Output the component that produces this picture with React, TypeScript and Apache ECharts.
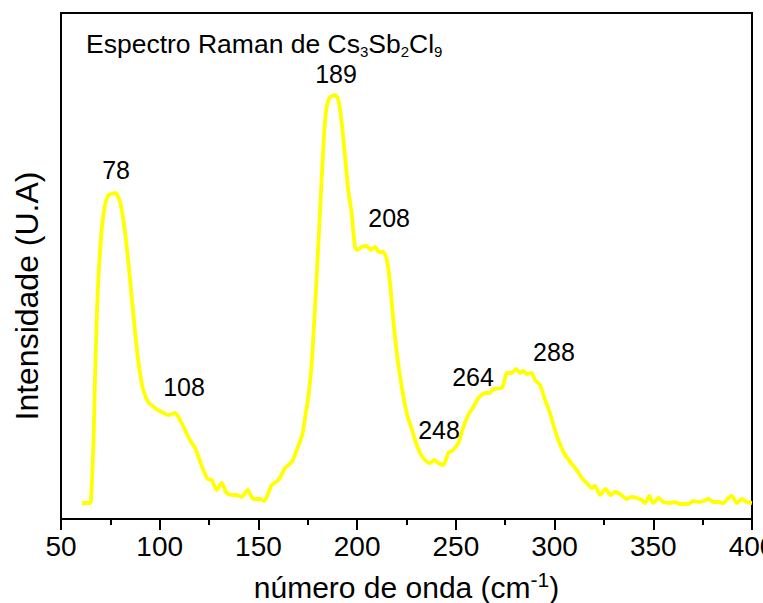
import React, { useEffect, useRef } from "react";
import * as echarts from "echarts";

const FONT = "'Liberation Sans', Arial, sans-serif";

// Raman shift (cm-1)
const waveNumber = [
  60.6, 64.7, 65.2, 66.4, 67.2, 68.1, 68.9, 70.6, 72.3, 74.0, 75.7, 77.7, 79.9, 81.6, 83.3, 85.0,
  86.6, 88.3, 90.0, 91.7, 94.2, 97.6, 101.0, 104.4, 107.8, 110.3, 112.8, 115.3, 117.9, 120.6,
  122.5, 124.3, 126.3, 128.9, 131.4, 133.9, 136.5, 139.0, 141.5, 144.6, 147.4, 150.8, 153.0,
  156.7, 160.1, 163.5, 166.9, 169.6, 172.3, 174.0, 175.3, 177.0, 178.5, 180.3, 182.0, 183.4,
  184.6, 186.3, 188.8, 190.5, 192.2, 193.9, 195.5, 197.2, 198.9, 200.1, 202.3, 204.9, 206.9,
  209.1, 211.1, 213.3, 215.0, 216.7, 218.5, 220.6, 223.2, 225.5, 228.0, 229.3, 231.9, 234.4,
  236.9, 239.1, 241.1, 243.7, 246.2, 248.7, 251.3, 253.8, 256.3, 258.9, 261.4, 264.8, 267.3,
  269.0, 273.3, 274.4, 275.8, 278.3, 280.5, 282.5, 284.2, 285.9, 288.4, 290.1, 292.6, 295.2,
  297.7, 299.7, 301.9, 304.5, 307.9, 311.2, 313.8, 316.3, 318.8, 320.5, 323.0, 325.8, 328.4,
  330.5, 333.2, 336.5, 339.1, 341.6, 344.2, 345.8, 348.0, 350.0, 352.6, 355.1, 358.5, 361.0,
  363.6, 366.1, 367.8, 370.3, 372.9, 375.4, 377.9, 380.4, 383.0, 385.5, 388.0, 389.8, 392.3,
  394.9, 397.4, 400.0,
];

// Intensity (arbitrary units)
const intensity = [
  16, 16, 19, 72, 139, 199, 239, 289, 314, 324, 325, 326, 317, 299, 272, 239,
  206, 172, 146, 129, 117, 111, 107, 104, 106, 99, 89, 79, 71, 57,
  47, 40, 39, 29, 36, 26, 24, 24, 22, 29, 20, 20, 18,
  34, 39, 51, 57, 70, 85, 106, 122, 156, 206, 272, 339, 389,
  412, 422, 424, 419, 396, 362, 329, 306, 272, 269, 272, 273, 269,
  272, 267, 267, 260, 235, 195, 158, 125, 103, 88, 79, 66, 59,
  56, 59, 56, 54, 66, 69, 76, 92, 104, 112, 121, 126, 126,
  130, 131, 137, 146, 146, 150, 146, 148, 145, 146, 139, 134, 119,
  106, 92, 79, 67, 57, 49, 41, 36, 31, 33, 24, 30, 24,
  27, 25, 20, 22, 21, 19, 16, 23, 16, 21, 17, 16, 17,
  15, 15, 15, 18, 17, 18, 20, 17, 17, 16, 21, 23, 16,
  20, 17, 16,
];

// Peak annotations: label text and anchor (wavenumber, intensity)
const peakLabels = ["78", "108", "189", "208", "248", "264", "288"];
const peakLabelX = [77.9, 112.3, 189.3, 216.2, 241.5, 258.7, 299.7];
const peakLabelY = [349, 132, 445, 301, 89, 142, 167];

const xTicksMin = 50;
const xTicksMax = 400;
const xTickStep = 50;

export default function App() {
  const ref = useRef<HTMLDivElement>(null);

  useEffect(() => {
    document.body.style.margin = "0";
    const chart = echarts.init(ref.current!, null, { renderer: "svg" });
    const lineData = waveNumber.map((x, i) => [x, intensity[i]]);
    const labelData = peakLabels.map((t, i) => ({ name: t, value: [peakLabelX[i], peakLabelY[i]] }));

    chart.setOption({
      animation: false,
      backgroundColor: "#ffffff",
      title: {
        text: "{n|Espectro Raman de Cs}{s|3}{n|Sb}{s|2}{n|Cl}{s|9}",
        left: 86,
        top: 29,
        padding: 0,
        textStyle: {
          fontWeight: "normal",
          rich: {
            n: { fontSize: 26.5, fontFamily: FONT, fontWeight: "normal", color: "#000", lineHeight: 30 },
            s: { fontSize: 15, fontFamily: FONT, fontWeight: "normal", color: "#000", lineHeight: 20, verticalAlign: "bottom" },
          },
        },
      },
      grid: {
        left: 61,
        right: 11,
        top: 13,
        bottom: 84,
        outerBoundsMode: "none",
        containLabel: false,
        show: true,
        borderColor: "#000",
        borderWidth: 2,
        backgroundColor: "transparent",
      },
      xAxis: {
        type: "value",
        min: xTicksMin,
        max: xTicksMax,
        interval: xTickStep,
        name: "{n|número de onda (cm}{p|-1}{n|)}",
        nameLocation: "middle",
        nameGap: 50,
        nameTextStyle: {
          rich: {
            n: { fontSize: 30, fontFamily: FONT, color: "#000", lineHeight: 36 },
            p: { fontSize: 21, fontFamily: FONT, color: "#000", lineHeight: 20, verticalAlign: "top" },
          },
        },
        axisLine: { show: true, lineStyle: { color: "#000", width: 2 } },
        axisTick: { show: true, inside: false, length: 11, lineStyle: { color: "#000", width: 2 } },
        minorTick: { show: true, splitNumber: 2, length: 6, lineStyle: { color: "#000", width: 2 } },
        splitLine: { show: false },
        axisLabel: { fontSize: 28, fontFamily: FONT, color: "#000", margin: 13, hideOverlap: false },
      },
      yAxis: {
        type: "value",
        min: 0,
        max: 506,
        axisLine: { show: true, lineStyle: { color: "#000", width: 2 } },
        axisTick: { show: false },
        axisLabel: { show: false },
        splitLine: { show: false },
      },
      graphic: [
        {
          type: "text",
          x: 27,
          y: 296,
          rotation: Math.PI / 2,
          style: {
            text: "Intensidade (U.A)",
            fontSize: 32,
            fontFamily: FONT,
            fill: "#000",
            align: "center",
            verticalAlign: "middle",
          },
        },
      ],
      series: [
        {
          type: "line",
          data: lineData,
          showSymbol: false,
          smooth: 0.2,
          lineStyle: { color: "#FFFF00", width: 3.8 },
          itemStyle: { color: "#FFFF00" },
          z: 2,
        },
        {
          type: "scatter",
          data: labelData,
          symbolSize: 0,
          silent: true,
          itemStyle: { opacity: 1 },
          label: {
            show: true,
            position: "inside",
            formatter: (p: any) => p.name,
            fontSize: 25,
            fontFamily: FONT,
            color: "#000",
            opacity: 1,
            textBorderWidth: 0,
          },
          z: 3,
        },
      ],
    });
    return () => chart.dispose();
  }, []);

  return <div ref={ref} style={{ width: 763, height: 603 }} />;
}
